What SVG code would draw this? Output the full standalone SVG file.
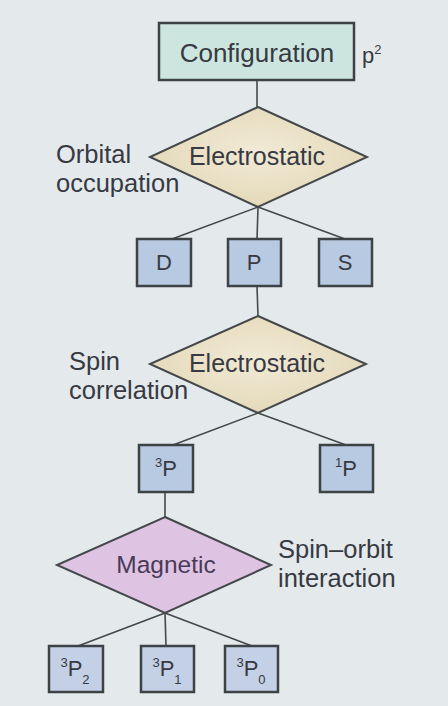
<svg xmlns="http://www.w3.org/2000/svg" width="448" height="706" viewBox="0 0 448 706">
<defs>
<radialGradient id="tan" cx="0.5" cy="0.45" r="0.6">
<stop offset="0" stop-color="#f1ead6"/>
<stop offset="1" stop-color="#e3d7b6"/>
</radialGradient>
<style>
text{font-family:"Liberation Sans",Arial,sans-serif;fill:#373a42}
.box{stroke:#3d4245;stroke-width:2.5}
.state{fill:#b8c9e2}
.dia{stroke:#44484a;stroke-width:2}
.conn line{stroke:#44484a;stroke-width:1.6}
.lbl{font-size:22px;text-anchor:middle}
.side{font-size:25.5px}
.sup{font-size:13px}
.sub{font-size:13px}
</style>
</defs>
<rect width="448" height="706" fill="#e4e9ec"/>
<g class="conn" id="connectors">
<line x1="257" y1="80" x2="257" y2="107"/>
<line x1="258" y1="207" x2="172" y2="239"/>
<line x1="258" y1="207" x2="257" y2="239"/>
<line x1="258" y1="207" x2="345" y2="239"/>
<line x1="257" y1="286" x2="258" y2="316"/>
<line x1="258" y1="413" x2="173" y2="445"/>
<line x1="258" y1="413" x2="346" y2="445"/>
<line x1="165" y1="492" x2="165" y2="517"/>
<line x1="165" y1="613" x2="78" y2="646"/>
<line x1="165" y1="613" x2="166" y2="646"/>
<line x1="165" y1="613" x2="252" y2="646"/>
</g>
<g id="configuration">
<rect class="box" x="159" y="23" width="195" height="57" fill="#cde5df"/>
<text x="257" y="62" font-size="26" text-anchor="middle">Configuration</text>
<text x="362" y="63" font-size="22">p<tspan class="sup" dy="-9">2</tspan></text>
</g>
<g id="electrostatic1">
<polygon class="dia" points="258,107 367,157 258,207 150,157" fill="url(#tan)"/>
<text x="257" y="165" font-size="25" text-anchor="middle">Electrostatic</text>
</g>
<g id="label-orbital">
<text class="side" x="56" y="163">Orbital</text>
<text class="side" x="56" y="192">occupation</text>
</g>
<g id="D"><rect class="box state" x="137" y="239" width="54" height="47"/><text class="lbl" x="164" y="270">D</text></g>
<g id="P"><rect class="box state" x="228" y="239" width="53" height="47"/><text class="lbl" x="254" y="270">P</text></g>
<g id="S"><rect class="box state" x="319" y="239" width="53" height="47"/><text class="lbl" x="345" y="270">S</text></g>
<g id="electrostatic2">
<polygon class="dia" points="258,316 366,364 258,413 150,364" fill="url(#tan)"/>
<text x="257" y="372" font-size="25" text-anchor="middle">Electrostatic</text>
</g>
<g id="label-spin">
<text class="side" x="69" y="370">Spin</text>
<text class="side" x="69" y="399">correlation</text>
</g>
<g id="tripletP"><rect class="box state" x="139" y="445" width="54" height="47"/><text class="lbl" x="166" y="476"><tspan class="sup" dy="-9">3</tspan><tspan dy="9">P</tspan></text></g>
<g id="singletP"><rect class="box state" x="320" y="445" width="53" height="47"/><text class="lbl" x="346" y="476"><tspan class="sup" dy="-9">1</tspan><tspan dy="9">P</tspan></text></g>
<g id="magnetic">
<polygon class="dia" points="165,517 271,565 165,613 57,565" fill="#dfc3e2"/>
<text x="166" y="573" font-size="24.5" text-anchor="middle" style="fill:#4a3a58">Magnetic</text>
</g>
<g id="label-spinorbit">
<text class="side" x="278" y="558">Spin–orbit</text>
<text class="side" x="278" y="587">interaction</text>
</g>
<g id="P2"><rect class="box" x="49" y="646" width="54" height="46" fill="#c3d0e5"/><text class="lbl" x="75" y="676"><tspan class="sup" dy="-9">3</tspan><tspan dy="9">P</tspan><tspan class="sub" dy="8">2</tspan></text></g>
<g id="P1"><rect class="box" x="141" y="646" width="53" height="46" fill="#c3d0e5"/><text class="lbl" x="167" y="676"><tspan class="sup" dy="-9">3</tspan><tspan dy="9">P</tspan><tspan class="sub" dy="8">1</tspan></text></g>
<g id="P0"><rect class="box" x="225" y="646" width="53" height="46" fill="#c3d0e5"/><text class="lbl" x="251" y="676"><tspan class="sup" dy="-9">3</tspan><tspan dy="9">P</tspan><tspan class="sub" dy="8">0</tspan></text></g>
</svg>
